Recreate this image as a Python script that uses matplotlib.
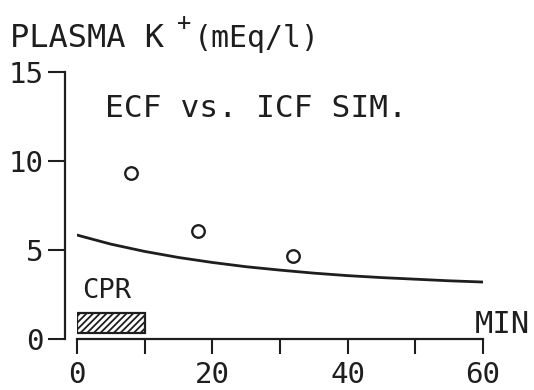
"""Plasma K+ during CPR: ECF vs ICF simulation against measured points."""

import matplotlib

matplotlib.use("Agg")
import matplotlib.pyplot as plt
from matplotlib.patches import Rectangle

plt.rcParams["font.family"] = ["DejaVu Sans Mono", "DejaVu Sans"]
plt.rcParams["hatch.linewidth"] = 1.3

INK = "#1e1e1e"

# simulated curve (minutes, mEq/l)
sim_t = [0, 5, 10, 15, 20, 25, 30, 35, 40, 45, 50, 55, 60]
sim_k = [5.84, 5.33, 4.92, 4.58, 4.30, 4.06, 3.87, 3.70, 3.56, 3.45, 3.36, 3.27, 3.20]

# measured values
obs_t = [8.0, 17.9, 31.9]
obs_k = [9.33, 6.07, 4.66]

# CPR period
cpr_start, cpr_end = 0, 10
cpr_low, cpr_high = 0.35, 1.45

W, H = 534, 390
fig = plt.figure(figsize=(W / 100, H / 100), dpi=100)
ax = fig.add_axes([77 / W, (H - 339) / H, 406 / W, 267 / H])

ax.plot(sim_t, sim_k, color=INK, lw=2.0, solid_capstyle="round")
ax.plot(obs_t, obs_k, "o", ms=9, mfc="none", mec=INK, mew=1.7)

ax.add_patch(Rectangle((cpr_start, cpr_low), cpr_end - cpr_start, cpr_high - cpr_low,
                       facecolor="white", edgecolor=INK, lw=1.6, hatch="/////"))

ax.set_xlim(0, 60)
ax.set_ylim(0, 15)
ax.set_xticks([0, 20, 40, 60])
ax.set_xticks([10, 30, 50], minor=True)
ax.set_yticks([0, 5, 10, 15])

for s in ("top", "right"):
    ax.spines[s].set_visible(False)
ax.spines["left"].set_position(("outward", 9))
for s in ("left", "bottom"):
    ax.spines[s].set_linewidth(1.6)
    ax.spines[s].set_color(INK)

ax.tick_params(axis="y", which="both", direction="out", length=12, width=1.5,
               pad=3, labelsize=21, colors=INK)
ax.tick_params(axis="x", which="both", direction="out", length=11, width=1.5,
               pad=5, labelsize=21, colors=INK)

ax.text(4.1, 12.47, "ECF vs. ICF SIM.", fontsize=22.5, color=INK, va="baseline")
ax.text(0.7, 2.3, "CPR", fontsize=19.5, color=INK, va="baseline")

fig.text(530 / W, (H - 333) / H, "MIN", fontsize=22, color=INK, ha="right", va="baseline")
fig.text(10 / W, (H - 47) / H, "PLASMA K", fontsize=23, color=INK, va="baseline")
fig.text(177 / W, (H - 30) / H, "+", fontsize=17, color=INK, va="baseline")
fig.text(194 / W, (H - 47) / H, "(mEq/l)", fontsize=21.5, color=INK, va="baseline")

fig.savefig("out.png", dpi=100)
